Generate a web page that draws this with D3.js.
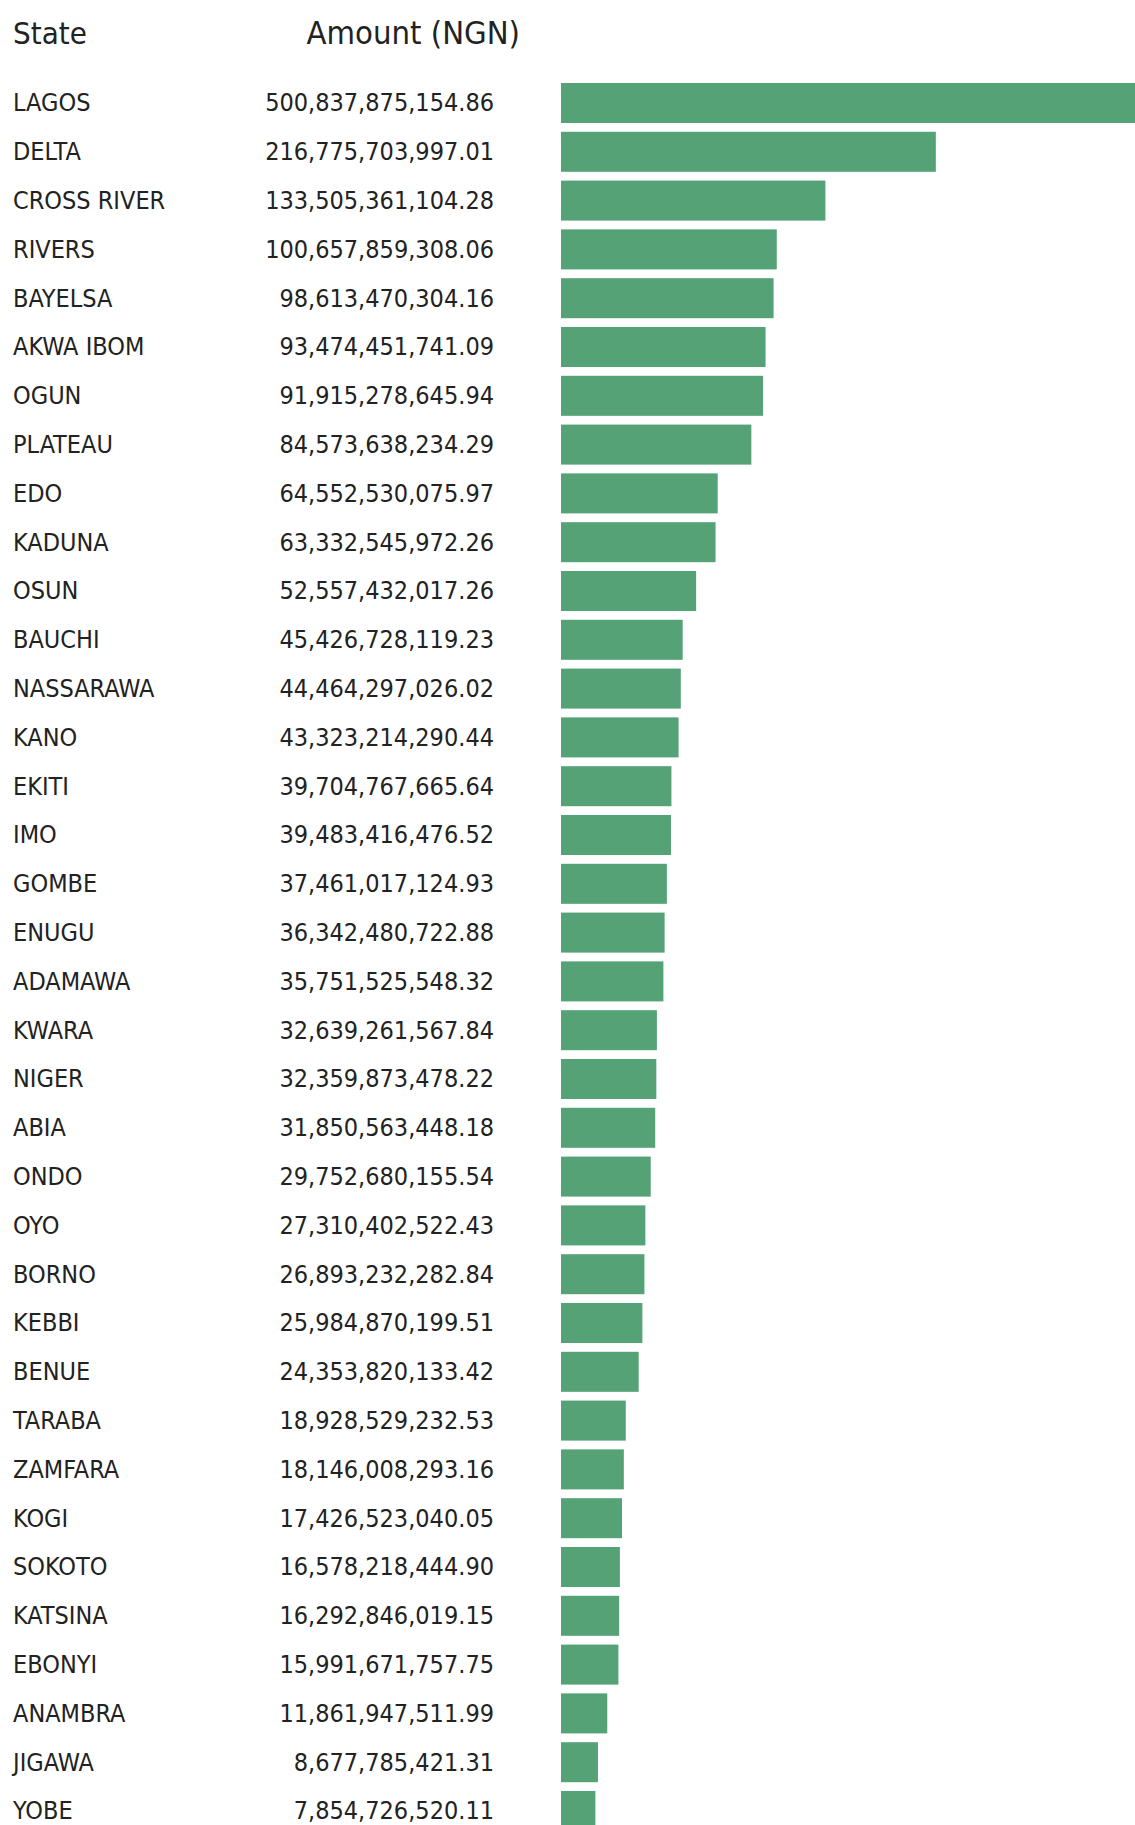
<!DOCTYPE html>
<html>
<head>
<meta charset="utf-8">
<title>Amount by State (NGN)</title>
<script src="https://cdn.jsdelivr.net/npm/d3@7"></script>
<style>
  html, body { margin: 0; padding: 0; background: #ffffff; overflow: hidden; }
  svg { display: block; }
  text {
    font-family: "DejaVu Sans Condensed", "DejaVu Sans", sans-serif;
    font-stretch: condensed;
    fill: #222222;
  }
</style>
</head>
<body>
<div id="chart"></div>
<script>
// Column headings
const headers = ["State", "Amount (NGN)"];

// States, in table order
const states = [
  "LAGOS", "DELTA", "CROSS RIVER", "RIVERS", "BAYELSA", "AKWA IBOM", "OGUN",
  "PLATEAU", "EDO", "KADUNA", "OSUN", "BAUCHI", "NASSARAWA", "KANO", "EKITI",
  "IMO", "GOMBE", "ENUGU", "ADAMAWA", "KWARA", "NIGER", "ABIA", "ONDO", "OYO",
  "BORNO", "KEBBI", "BENUE", "TARABA", "ZAMFARA", "KOGI", "SOKOTO", "KATSINA",
  "EBONYI", "ANAMBRA", "JIGAWA", "YOBE"
];

// Amount per state, in naira
const amounts = [
  500837875154.86, 216775703997.01, 133505361104.28, 100657859308.06,
  98613470304.16, 93474451741.09, 91915278645.94, 84573638234.29,
  64552530075.97, 63332545972.26, 52557432017.26, 45426728119.23,
  44464297026.02, 43323214290.44, 39704767665.64, 39483416476.52,
  37461017124.93, 36342480722.88, 35751525548.32, 32639261567.84,
  32359873478.22, 31850563448.18, 29752680155.54, 27310402522.43,
  26893232282.84, 25984870199.51, 24353820133.42, 18928529232.53,
  18146008293.16, 17426523040.05, 16578218444.90, 16292846019.15,
  15991671757.75, 11861947511.99, 8677785421.31, 7854726520.11
];

const rows = states.map((s, i) => ({ state: s, amount: amounts[i] }));

const width = 1135, height = 1825;
const stateX = 13;          // left edge of the state column
const amountRight = 494;    // right edge of the amount column
const barX = 561;           // where the bars begin
const barSpan = 685;        // length the largest amount would reach

const svg = d3.select("#chart").append("svg")
  .attr("width", width)
  .attr("height", height);

// Row positions
const y = d3.scaleBand()
  .domain(states)
  .range([78.6, 78.6 + 48.8 * states.length])
  .paddingInner(0.18)
  .paddingOuter(0.09);

// Bar lengths (compressed power scale)
const x = d3.scalePow()
  .exponent(0.72)
  .domain([0, d3.max(amounts)])
  .range([barX, barX + barSpan]);

const fmt = d3.format(",.2f");

// Header row
const head = svg.append("g").attr("class", "header");
head.append("text")
  .attr("x", stateX)
  .attr("y", 44)
  .style("font-size", "31px")
  .text(headers[0]);
head.append("text")
  .attr("x", 520)
  .attr("y", 44)
  .attr("text-anchor", "end")
  .style("font-size", "32.5px")
  .text(headers[1]);

// Table rows
const row = svg.append("g").attr("class", "rows")
  .selectAll("g")
  .data(rows)
  .join("g")
  .attr("transform", d => `translate(0,${y(d.state)})`);

row.append("rect")
  .attr("x", x(0))
  .attr("y", 0)
  .attr("width", d => x(d.amount) - x(0))
  .attr("height", y.bandwidth())
  .attr("fill", "#54a275");

row.append("text")
  .attr("x", stateX)
  .attr("y", y.bandwidth() / 2 + 8.5)
  .style("font-size", "25px")
  .text(d => d.state);

row.append("text")
  .attr("x", amountRight)
  .attr("y", y.bandwidth() / 2 + 8.5)
  .attr("text-anchor", "end")
  .style("font-size", "25px")
  .text(d => fmt(d.amount));
</script>
</body>
</html>
